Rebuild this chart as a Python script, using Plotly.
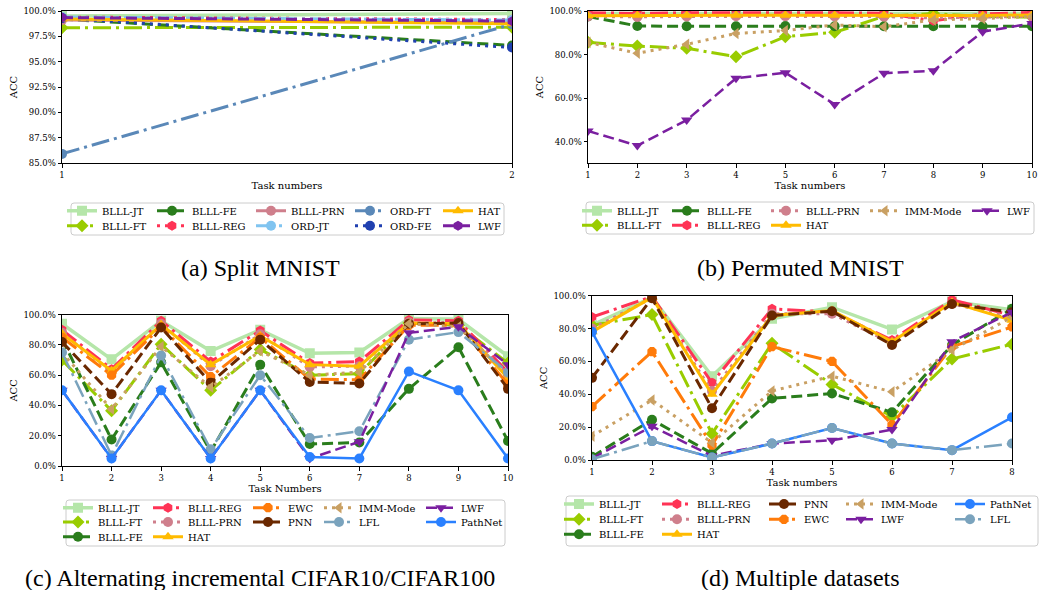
import plotly.graph_objects as go

W, H = 1039, 590

# ---------------- data ----------------
# (a) Split MNIST
a_tasks = [1, 2]
a_blll_jt = [99.5, 99.75]
a_blll_ft = [98.35, 98.4]
a_blll_fe = [99.2, 96.6]
a_blll_reg = [99.4, 99.15]
a_blll_prn = [99.1, 98.85]
a_ord_jt = [99.4, 99.1]
a_ord_ft = [85.9, 98.7]
a_ord_fe = [99.3, 96.4]
a_hat = [99.2, 98.75]
a_lwf = [99.35, 99.0]

# (b) Permuted MNIST
b_tasks = [1, 2, 3, 4, 5, 6, 7, 8, 9, 10]
b_blll_jt = [98.8, 98.7, 98.8, 98.8, 98.9, 98.8, 98.7, 98.8, 98.9, 98.9]
b_blll_ft = [85.6, 83.9, 82.9, 79.0, 88.2, 90.2, 97.5, 98.8, 97.5, 97.2]
b_blll_fe = [97.5, 93.1, 93.0, 93.0, 93.1, 93.0, 93.0, 93.0, 93.0, 93.0]
b_blll_reg = [99.2, 98.9, 99.2, 99.3, 99.3, 99.2, 99.0, 95.5, 98.6, 99.3]
b_blll_prn = [97.5, 97.3, 97.5, 97.6, 97.6, 97.5, 97.4, 96.8, 97.2, 97.5]
b_hat = [97.8, 98.0, 98.0, 98.1, 98.1, 98.0, 98.1, 97.8, 97.9, 98.2]
b_imm = [85.6, 80.6, 84.7, 89.7, 91.0, 93.6, 92.8, 95.9, 96.5, 97.5]
b_lwf = [44.9, 38.2, 49.9, 69.1, 71.7, 57.1, 71.4, 72.6, 90.5, 94.3]

# (c) Alternating incremental CIFAR10/CIFAR100
c_tasks = [1, 2, 3, 4, 5, 6, 7, 8, 9, 10]
c_blll_jt = [94, 70.5, 96, 76, 90, 74.5, 75, 97.5, 97, 72.5]
c_blll_ft = [70, 36.5, 80.5, 50, 77, 60, 61, 94.5, 93, 68]
c_blll_fe = [84, 17.5, 68.5, 9.5, 67, 14.5, 15.5, 51, 78.5, 16.5]
c_blll_reg = [90, 64, 96, 69, 89.5, 68, 69, 96.5, 96, 62]
c_blll_prn = [88, 62, 94, 66, 87, 65.5, 66, 95, 94.5, 60]
c_hat = [87.5, 63, 93.5, 67, 86, 67, 66, 94.5, 94, 58]
c_ewc = [85, 60, 92, 59, 85, 57.5, 57, 93, 93, 54]
c_pnn = [82, 47.5, 91.5, 55, 83.5, 55.5, 54.5, 94, 94.5, 51]
c_imm = [75, 37.5, 79, 52, 76, 60, 62, 94, 92, 60]
c_lfl = [75, 7, 73, 11, 60, 18.5, 23, 83.5, 88.5, 62]
c_lwf = [50, 5, 50, 5, 50, 5, 16, 88, 92, 67]
c_pathnet = [50, 5, 50, 5, 50, 6, 5, 62.5, 50, 5]

# (d) Multiple datasets
d_tasks = [1, 2, 3, 4, 5, 6, 7, 8]
d_blll_jt = [82, 99, 51, 86, 93, 79.5, 96.5, 91.5]
d_blll_ft = [82, 88.5, 16, 71, 46, 26.5, 61.5, 70.5]
d_blll_fe = [2, 24.5, 4, 37.5, 40.5, 29, 70, 92]
d_blll_reg = [87, 99.5, 47, 92, 90, 73, 97.5, 88]
d_blll_prn = [80, 98.5, 42, 89, 89, 71, 95, 87]
d_hat = [78, 99, 40, 88, 91, 72, 96, 85]
d_pnn = [50, 98.5, 31.5, 88, 90.5, 70, 95, 90]
d_ewc = [32.5, 66, 9, 69, 60, 21.5, 69, 81]
d_imm = [14.5, 36.5, 10.5, 42, 51, 41.5, 67, 87]
d_lwf = [1, 20.5, 2.5, 10, 12, 18.5, 72, 90]
d_pathnet = [78, 11.5, 1.5, 10, 19.5, 10, 6, 26]
d_lfl = [0.5, 11.5, 1.5, 10, 19.5, 10, 6, 10]

# ---------------- styles ----------------
DASH = {'solid': 'solid', 'dash': '11px,5px', 'dashdot': '18px,5px,3px,5px', 'dot': '3px,5px'}
STYLE = {
    'BLLL-JT': dict(color='#b5e6a9', dash='solid', symbol='square', width=3.5),
    'BLLL-FT': dict(color='#99cc00', dash='dashdot', symbol='diamond', width=3),
    'BLLL-FE': dict(color='#2a7d1c', dash='dash', symbol='circle', width=3),
    'BLLL-REG': dict(color='#ff3355', dash='dashdot', symbol='hexagon', width=3),
    'BLLL-PRN': dict(color='#cf7f8c', dash='dot', symbol='circle', width=3),
    'ORD-JT': dict(color='#80c4f0', dash='dashdot', symbol='circle', width=3),
    'ORD-FT': dict(color='#5a88b8', dash='dashdot', symbol='circle', width=3),
    'ORD-FE': dict(color='#2040b0', dash='dot', symbol='circle', width=3),
    'HAT': dict(color='#ffbb00', dash='solid', symbol='triangle-up', width=3),
    'LWF': dict(color='#7a1fa0', dash='dash', symbol='triangle-down', width=2.5),
    'IMM-Mode': dict(color='#c9a063', dash='dot', symbol='triangle-left', width=3),
    'EWC': dict(color='#ff7b0a', dash='dashdot', symbol='octagon', width=3),
    'PNN': dict(color='#6a2800', dash='dash', symbol='circle', width=3),
    'LFL': dict(color='#7aa3bd', dash='dashdot', symbol='circle', width=2.5),
    'PathNet': dict(color='#2a80ff', dash='solid', symbol='circle', width=2.5),
}
A_OVERRIDE = {
    'BLLL-REG': dict(dash='dot'),
    'BLLL-PRN': dict(dash='solid'),
    'LWF': dict(symbol='hexagon', width=3),
}

panels = [
    dict(ax='', tasks=a_tasks,
         series=[('BLLL-JT', a_blll_jt), ('BLLL-FT', a_blll_ft), ('BLLL-FE', a_blll_fe),
                 ('BLLL-REG', a_blll_reg), ('BLLL-PRN', a_blll_prn), ('ORD-JT', a_ord_jt),
                 ('ORD-FT', a_ord_ft), ('ORD-FE', a_ord_fe), ('HAT', a_hat), ('LWF', a_lwf)],
         override=A_OVERRIDE,
         box=(62, 11, 512, 163), yrange=[85, 100], dtick=2.5, tick0=85,
         xtitle='Task numbers',
         cols=[2, 2, 2, 2, 2], text_x=[102, 192, 291, 390, 478], rows=[210.7, 225.7],
         lbox=(71, 203, 504, 235),
         caption='(a) Split MNIST', cap=(260, 268)),
    dict(ax='2', tasks=b_tasks,
         series=[('BLLL-JT', b_blll_jt), ('BLLL-FT', b_blll_ft), ('BLLL-FE', b_blll_fe),
                 ('BLLL-REG', b_blll_reg), ('BLLL-PRN', b_blll_prn), ('HAT', b_hat),
                 ('IMM-Mode', b_imm), ('LWF', b_lwf)],
         override={},
         box=(588, 11, 1032, 163), yrange=[30.2, 100], dtick=20, tick0=0,
         xtitle='Task numbers',
         cols=[2, 2, 2, 1, 1], text_x=[617, 707, 806, 905, 1007], rows=[210.7, 225.3],
         lbox=(586, 202, 1034, 234),
         caption='(b) Permuted MNIST', cap=(800, 268)),
    dict(ax='3', tasks=c_tasks,
         series=[('BLLL-JT', c_blll_jt), ('BLLL-FT', c_blll_ft), ('BLLL-FE', c_blll_fe),
                 ('BLLL-REG', c_blll_reg), ('BLLL-PRN', c_blll_prn), ('HAT', c_hat),
                 ('EWC', c_ewc), ('PNN', c_pnn), ('IMM-Mode', c_imm), ('LFL', c_lfl),
                 ('LWF', c_lwf), ('PathNet', c_pathnet)],
         override={},
         box=(62, 314.7, 508, 466), yrange=[0, 100], dtick=20, tick0=0,
         xtitle='Task Numbers',
         cols=[3, 3, 2, 2, 2], text_x=[98, 188, 288, 359, 461], rows=[507.7, 522, 536.7],
         lbox=(66, 500, 505, 546),
         caption='(c) Alternating incremental CIFAR10/CIFAR100', cap=(260, 578)),
    dict(ax='4', tasks=d_tasks,
         series=[('BLLL-JT', d_blll_jt), ('BLLL-FT', d_blll_ft), ('BLLL-FE', d_blll_fe),
                 ('BLLL-REG', d_blll_reg), ('BLLL-PRN', d_blll_prn), ('HAT', d_hat),
                 ('PNN', d_pnn), ('EWC', d_ewc), ('IMM-Mode', d_imm), ('LWF', d_lwf),
                 ('PathNet', d_pathnet), ('LFL', d_lfl)],
         override={},
         box=(592, 295.7, 1012, 460), yrange=[0, 100], dtick=20, tick0=0,
         xtitle='Task numbers',
         cols=[3, 3, 2, 2, 2], text_x=[599, 697, 804, 881, 990], rows=[504, 519.3, 534.3],
         lbox=(566, 496, 1038, 546),
         caption='(d) Multiple datasets', cap=(800, 578)),
]


def fx(px):
    return px / W


def fy(py):
    return 1 - py / H


SERIF = 'DejaVu Serif'
fig = go.Figure()
layout = dict(width=W, height=H, margin=dict(l=0, r=0, t=0, b=0),
              paper_bgcolor='white', plot_bgcolor='white', showlegend=True)
shapes = []
annotations = []
leg_idx = 0

for p in panels:
    ax = p['ax']
    # column-major legend cell positions
    cells = []
    for ci, n in enumerate(p['cols']):
        for ri in range(n):
            cells.append((ci, ri))
    for k, (name, vals) in enumerate(p['series']):
        st = dict(STYLE[name])
        st.update(p['override'].get(name, {}))
        leg_idx += 1
        lname = 'legend' if leg_idx == 1 else 'legend%d' % leg_idx
        ci, ri = cells[k]
        layout[lname] = dict(
            x=fx(p['text_x'][ci] - 40), y=fy(p['rows'][ri]),
            xanchor='left', yanchor='middle', bgcolor='rgba(0,0,0,0)',
            borderwidth=0, font=dict(family=SERIF, size=10, color='black'),
            itemwidth=30, orientation='v')
        fig.add_trace(go.Scatter(
            x=p['tasks'], y=vals, name=name, mode='lines+markers',
            xaxis='x' + ax, yaxis='y' + ax, legend=lname,
            line=dict(color=st['color'], width=st['width'], dash=DASH[st['dash']]),
            marker=dict(symbol=st['symbol'], size=10, color=st['color'],
                        line=dict(width=0)),
            hoverinfo='skip'))
    x0, y0, x1, y1 = p['box']
    xa = 'xaxis' + ax
    ya = 'yaxis' + ax
    common = dict(showgrid=False, zeroline=False, showline=True, mirror=True,
                  linecolor='black', linewidth=1, ticks='outside', ticklen=3.5,
                  tickwidth=0.8, tickcolor='black', automargin=False,
                  tickfont=dict(family=SERIF, size=8.5, color='black'))
    layout[xa] = dict(common, domain=[fx(x0), fx(x1)], anchor='y' + ax,
                      range=[p['tasks'][0], p['tasks'][-1]], tickmode='array',
                      tickvals=p['tasks'],
                      title=dict(text=p['xtitle'], standoff=3,
                                 font=dict(family=SERIF, size=10, color='black')))
    layout[ya] = dict(common, domain=[fy(y1), fy(y0)], anchor='x' + ax,
                      range=p['yrange'], tick0=p['tick0'], dtick=p['dtick'],
                      tickformat='.1f', ticksuffix='%',
                      title=dict(text='ACC', standoff=3,
                                 font=dict(family=SERIF, size=10, color='black')))
    # legend frame (rounded)
    bx0, by0, bx1, by1 = p['lbox']
    r = 3
    path = ('M {a},{b} L {c},{b} Q {d},{b} {d},{e} L {d},{f} Q {d},{g} {c},{g} '
            'L {a},{g} Q {h},{g} {h},{f} L {h},{e} Q {h},{b} {a},{b} Z').format(
        a=fx(bx0 + r), b=fy(by0), c=fx(bx1 - r), d=fx(bx1), e=fy(by0 + r),
        f=fy(by1 - r), g=fy(by1), h=fx(bx0))
    shapes.append(dict(type='path', xref='paper', yref='paper', path=path,
                       line=dict(color='#cccccc', width=1),
                       fillcolor='rgba(255,255,255,0.8)', layer='above'))
    annotations.append(dict(text=p['caption'], xref='paper', yref='paper',
                            x=fx(p['cap'][0]), y=fy(p['cap'][1]),
                            xanchor='center', yanchor='middle', showarrow=False,
                            font=dict(family='Liberation Serif', size=24, color='black')))

layout['shapes'] = shapes
layout['annotations'] = annotations
fig.update_layout(**layout)
fig.write_html("out.html", config={'displayModeBar': False},
               post_script="document.body.style.margin='0';")
